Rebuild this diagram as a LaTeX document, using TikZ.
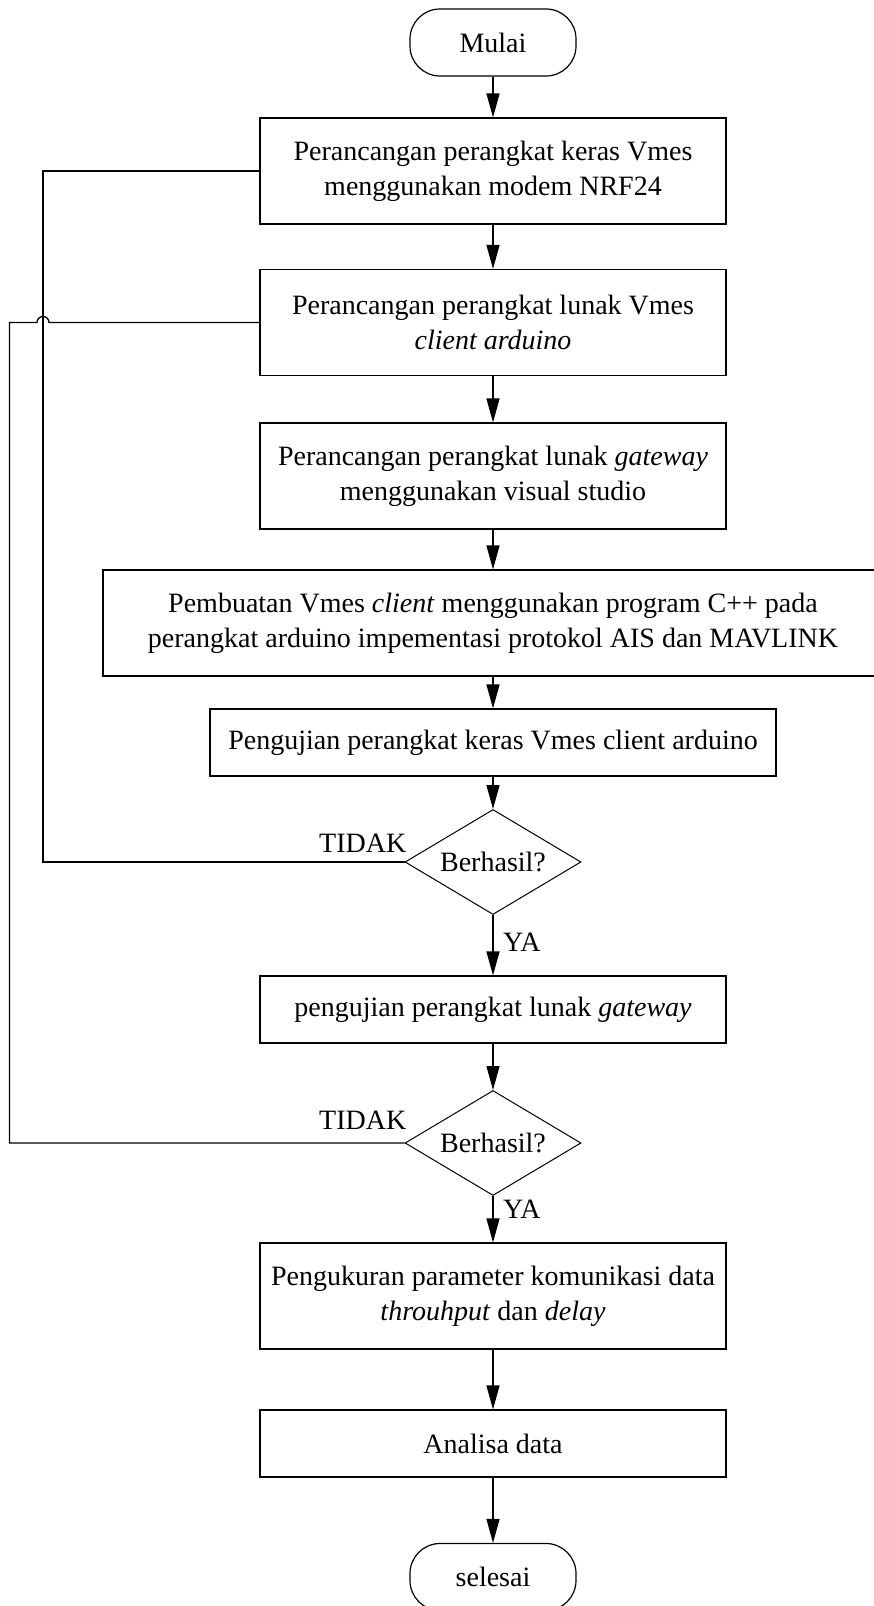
\documentclass[tikz,border=0pt]{standalone}
\usepackage{fontspec}
\setmainfont{Liberation Serif}
\usetikzlibrary{arrows.meta,shapes.geometric,calc}
\begin{document}
\begin{tikzpicture}[x=1pt,y=-1pt,
  every node/.style={font=\fontsize{28}{35}\selectfont},
  proc/.style={draw, line width=1.2pt, rectangle, align=center, inner sep=0pt,
    minimum width=466pt, minimum height=106pt},
  term/.style={draw, line width=1.2pt, rectangle, rounded corners=30pt, inner sep=0pt,
    minimum width=166pt, minimum height=67pt},
  dec/.style={draw, line width=1pt, diamond, aspect=1.676, inner sep=0pt,
    minimum width=176pt, minimum height=105pt},
  lbl/.style={inner sep=0pt},
  flow/.style={line width=1.3pt, -{Triangle[length=24pt,width=13pt]}},
  loop/.style={line width=1.3pt}]
\path[use as bounding box, clip] (0,0) rectangle (874,1606);

% process chain
\node[term] (start) at (493,42.5) {Mulai};
\node[proc] (b1) at (493,171) {Perancangan perangkat keras Vmes\\menggunakan modem NRF24};
\node[proc] (b2) at (493,322.5) {Perancangan perangkat lunak Vmes\\\textit{client arduino}};
\node[proc] (b3) at (493,476) {Perancangan perangkat lunak \textit{gateway}\\menggunakan visual studio};
\node[proc, minimum width=780pt] (b4) at (493,623) {Pembuatan Vmes \textit{client} menggunakan program C++ pada\\perangkat arduino impementasi protokol AIS dan MAVLINK};
\node[proc, minimum width=566pt, minimum height=67pt] (b5) at (493,742.5) {Pengujian perangkat keras Vmes client arduino};
\node[dec] (d1) at (493,862) {Berhasil?};
\node[proc, minimum height=67pt] (b6) at (493,1009.5) {pengujian perangkat lunak \textit{gateway}};
\node[dec] (d2) at (493,1143) {Berhasil?};
\node[proc] (b7) at (493,1296) {Pengukuran parameter komunikasi data\\\textit{throuhput} dan \textit{delay}};
\node[proc, minimum height=67pt] (b8) at (493,1443.5) {Analisa data};
\node[term] (end) at (493,1577) {selesai};

% branch labels
\node[lbl, anchor=base east] (t1) at ([xshift=2pt,yshift=10pt]d1.west) {TIDAK};
\node[lbl, anchor=base east] (t2) at ([xshift=2pt,yshift=14pt]d2.west) {TIDAK};
\node[lbl, anchor=base west] (y1) at ([xshift=10pt,yshift=24pt]b6.north) {YA};
\node[lbl, anchor=base west] (y2) at ([xshift=10pt,yshift=24pt]b7.north) {YA};

% main flow
\draw[flow] (start) -- (b1);
\draw[flow] (b1) -- (b2);
\draw[flow] (b2) -- (b3);
\draw[flow] (b3) -- (b4);
\draw[flow] (b4) -- (b5);
\draw[flow] (b5) -- (d1);
\draw[flow] (d1) -- (b6);
\draw[flow] (b6) -- (d2);
\draw[flow] (d2) -- (b7);
\draw[flow] (b7) -- (b8);
\draw[flow] (b8) -- (end);

% feedback rails
\coordinate (railA) at (43,0);
\coordinate (railB) at (9.5,0);
\draw[loop] (d1.west) -- (d1.west -| railA) -- (b1.west -| railA) -- (b1.west);
\draw[loop] (b2.west) -- ([xshift=6pt]b2.west -| railA)
  arc[start angle=0, end angle=180, radius=6pt]
  -- (b2.west -| railB) -- (d2.west -| railB) -- (d2.west);
\end{tikzpicture}
\end{document}
